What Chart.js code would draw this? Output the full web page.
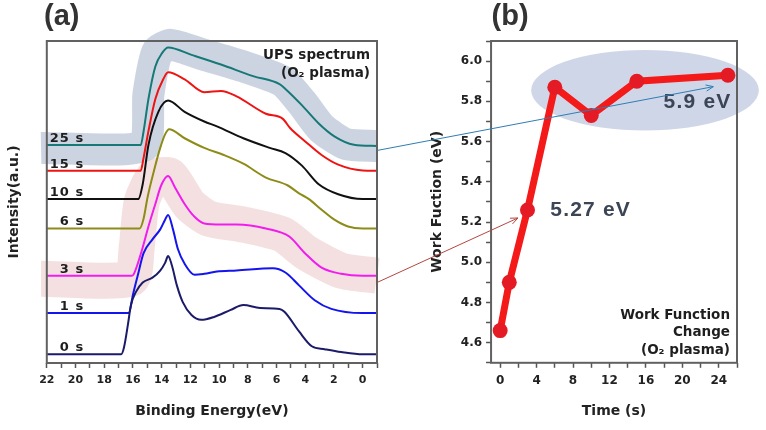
<!DOCTYPE html>
<html>
<head>
<meta charset="utf-8">
<script src="https://cdn.jsdelivr.net/npm/chart.js@4.4.0/dist/chart.umd.min.js"></script>
<style>
  body { margin: 0; background: #fff; }
  #wrap { position: relative; width: 766px; height: 430px; }
  #wrap canvas { position: absolute; left: 0; top: 0; }
</style>
</head>
<body>
<div id="wrap">
  <canvas id="ups" width="766" height="430"></canvas>
  <canvas id="wf" width="766" height="430"></canvas>
</div>
<script>
// (a) UPS spectra, binding energy (eV) vs stacked intensity (a.u.)
const energy0 = [22, 16.82, 16.62, 16.35, 16.14, 15.80, 15.32, 14.64, 14.10, 13.76, 13.55, 13.28, 12.94, 12.53, 11.92, 11.24, 10.35, 9.19, 8.31, 7.15, 5.79, 5.45, 4.43, 3.54, 2.65, 1.50, 0, -1];
const int0 = [2.7, 2.7, 4.9, 11.9, 18.0, 22.0, 25.0, 26.5, 28.7, 31.1, 33.2, 30.2, 24.1, 18.9, 14.9, 13.4, 14.3, 16.5, 18.0, 17.1, 16.8, 15.9, 9.8, 5.2, 4.3, 3.4, 2.7, 2.7];

const energy1 = [22, 16.28, 16.01, 15.67, 15.26, 14.64, 14.10, 13.76, 13.55, 13.21, 12.87, 12.40, 11.71, 11.03, 10.15, 8.78, 6.26, 5.38, 4.43, 3.34, 2.18, 0, -1];
const int1 = [15.5, 15.5, 21.0, 27.1, 34.1, 38.4, 41.5, 44.5, 46.0, 41.5, 35.4, 30.8, 27.4, 27.7, 28.4, 28.7, 29.4, 28.1, 24.1, 19.5, 16.8, 15.5, 15.5];

const energy3 = [22, 16.07, 15.94, 15.39, 14.92, 14.44, 14.03, 13.55, 13.08, 12.40, 11.71, 11.03, 9.87, 8.78, 6.74, 5.11, 4.02, 2.86, 1.50, 0, -1];
const int3 = [27.1, 27.1, 27.6, 34.8, 42.4, 49.4, 55.2, 58.1, 54.6, 49.4, 45.4, 43.3, 43.0, 43.0, 41.8, 39.3, 34.1, 29.6, 27.7, 27.1, 27.1];

const energy6 = [22, 15.53, 15.26, 14.98, 14.57, 14.10, 13.76, 13.48, 12.40, 11.03, 9.67, 8.31, 6.74, 5.24, 4.43, 3.74, 2.86, 1.97, 1.02, 0, -1];
const int6 = [41.8, 41.8, 44.8, 51.5, 59.1, 66.8, 71.0, 72.6, 69.8, 66.8, 64.6, 61.9, 57.6, 55.2, 52.7, 50.9, 47.6, 44.5, 42.4, 41.8, 41.8];

const energy10 = [22, 15.63, 15.32, 14.92, 14.23, 13.55, 12.40, 11.03, 10.15, 8.31, 6.47, 5.38, 4.23, 3.06, 1.70, 0, -1];
const int10 = [50.9, 50.9, 55.5, 67.7, 78.0, 81.5, 78.0, 75.0, 73.5, 69.8, 66.8, 65.2, 61.3, 55.5, 52.4, 50.9, 50.9];

const energy15 = [22, 15.46, 15.26, 14.92, 14.44, 13.89, 13.55, 12.40, 11.03, 9.87, 8.78, 6.74, 5.58, 5.04, 4.02, 2.86, 1.70, 0, -1];
const int15 = [59.7, 59.7, 63.7, 72.0, 82.0, 88.1, 90.3, 88.1, 84.1, 84.5, 82.8, 77.4, 75.9, 72.9, 68.9, 64.6, 61.6, 59.8, 59.7];

const energy25 = [22, 15.46, 15.26, 14.92, 14.44, 13.96, 13.55, 11.92, 9.87, 7.63, 5.79, 5.38, 4.22, 3.06, 1.97, 0.61, -1];
const int25 = [67.7, 67.7, 71.9, 82.0, 92.1, 96.3, 98.0, 95.7, 92.7, 89.1, 86.6, 85.1, 80.0, 74.4, 70.4, 67.8, 67.4];

// highlight strokes behind the 25 s and 3 s curves
const grayBandE = [22.4, 15.26, 14.92, 14.30, 13.35, 11.03, 8.31, 5.58, 4.22, 2.86, 1.16, -1.0];
const grayBandV = [66.8, 67.4, 83.5, 96.6, 98.8, 95.7, 92.1, 87.5, 80.8, 72.9, 68.0, 67.4];
const pinkBandE = [22.4, 16.14, 15.73, 15.39, 14.57, 13.42, 12.05, 10.69, 8.31, 5.58, 3.88, 1.50, -1.0];
const pinkBandV = [26.2, 26.2, 36.3, 50.0, 57.6, 58.2, 49.1, 44.8, 43.0, 39.9, 34.1, 28.7, 27.1];

// (b) work function vs plasma time
const times = [0, 1, 3, 6, 10, 15, 25];
const workFunction = [4.66, 4.90, 5.26, 5.87, 5.73, 5.90, 5.93];
const timeTicks = [0, 2, 4, 6, 8, 10, 12, 14, 16, 18, 20, 22, 24, 26];

const spectra = [
    { label: '0 s', e: energy0, v: int0, color: '#1b1b6a' },
    { label: '1 s', e: energy1, v: int1, color: '#1414ee' },
    { label: '3 s', e: energy3, v: int3, color: '#f21ded' },
    { label: '6 s', e: energy6, v: int6, color: '#8e8c18' },
    { label: '10 s', e: energy10, v: int10, color: '#111111' },
    { label: '15 s', e: energy15, v: int15, color: '#ee1414' },
    { label: '25 s', e: energy25, v: int25, color: '#177878' }
];

const pts = (xs, ys) => xs.map((x, i) => ({ x: x, y: ys[i] }));
const tickFont = size => ({ family: 'DejaVu Sans', weight: 'bold', size: size });
const titleFont = { family: 'DejaVu Sans', weight: 'bold', size: 14 };

function drawText(ctx, text, x, y, font, color, align, spacing) {
    ctx.save();
    ctx.font = font;
    ctx.fillStyle = color;
    ctx.textAlign = align;
    ctx.textBaseline = 'middle';
    if (spacing) ctx.letterSpacing = spacing + 'px';
    ctx.fillText(text, x, y);
    ctx.restore();
}

function drawFrame(chart) {
    const a = chart.chartArea;
    const ctx = chart.ctx;
    ctx.save();
    ctx.strokeStyle = '#616161';
    ctx.lineWidth = 2;
    ctx.strokeRect(a.left, a.top, a.right - a.left, a.bottom - a.top);
    ctx.restore();
}

function arrow(ctx, x1, y1, x2, y2, color) {
    const ang = Math.atan2(y2 - y1, x2 - x1);
    ctx.save();
    ctx.strokeStyle = color;
    ctx.lineWidth = 1;
    ctx.beginPath();
    ctx.moveTo(x1, y1);
    ctx.lineTo(x2, y2);
    ctx.moveTo(x2 - 8 * Math.cos(ang - 0.4), y2 - 8 * Math.sin(ang - 0.4));
    ctx.lineTo(x2, y2);
    ctx.lineTo(x2 - 8 * Math.cos(ang + 0.4), y2 - 8 * Math.sin(ang + 0.4));
    ctx.stroke();
    ctx.restore();
}

const upsDecor = {
    id: 'upsDecor',
    afterDatasetsDraw(chart) {
        const ctx = chart.ctx;
        const a = chart.chartArea;
        const xs = chart.scales.x, ys = chart.scales.y;
        drawFrame(chart);
        spectra.forEach(s => {
            ctx.save();
            ctx.font = 'bold 13px "DejaVu Sans"';
            ctx.fillStyle = '#1e1e1e';
            ctx.textAlign = 'right';
            ctx.textBaseline = 'alphabetic';
            ctx.letterSpacing = '1px';
            ctx.fillText(s.label, xs.getPixelForValue(19.4), ys.getPixelForValue(s.v[0]) - 3);
            ctx.restore();
        });
        drawText(ctx, 'UPS spectrum', a.right - 7, a.top + 14, 'bold 13.5px "DejaVu Sans"', '#1e1e1e', 'right');
        drawText(ctx, '(O\u2082 plasma)', a.right - 7, a.top + 32, 'bold 13.5px "DejaVu Sans"', '#1e1e1e', 'right');
        drawText(ctx, '(a)', a.left + 15, a.top - 24, 'bold 29px "Liberation Sans"', '#333333', 'center');
    }
};

const upsChart = new Chart(document.getElementById('ups').getContext('2d'), {
    type: 'line',
    data: {
        datasets: [
            ...spectra.map(s => ({
                label: s.label,
                data: pts(s.e, s.v),
                borderColor: s.color,
                borderWidth: 2,
                pointRadius: 0,
                cubicInterpolationMode: 'monotone',
                order: 1
            })),
            {
                label: 'band25',
                data: pts(grayBandE, grayBandV),
                borderColor: 'rgba(196,205,220,0.85)',
                borderWidth: 32,
                borderJoinStyle: 'round',
                pointRadius: 0,
                tension: 0.2,
                clip: false,
                order: 5
            },
            {
                label: 'band3',
                data: pts(pinkBandE, pinkBandV),
                borderColor: 'rgba(240,214,214,0.75)',
                borderWidth: 36,
                borderJoinStyle: 'round',
                pointRadius: 0,
                tension: 0.2,
                clip: false,
                order: 5
            }
        ]
    },
    options: {
        responsive: false,
        animation: false,
        layout: { padding: { left: 2, right: 389, top: 41, bottom: 6 } },
        plugins: { legend: { display: false }, tooltip: { enabled: false } },
        scales: {
            x: {
                type: 'linear',
                reverse: true,
                min: -1,
                max: 22,
                ticks: {
                    stepSize: 1,
                    autoSkip: false,
                    maxRotation: 0,
                    padding: 6,
                    color: '#222',
                    font: tickFont(11),
                    callback: v => (v >= 0 && v % 2 === 0) ? String(v) : ''
                },
                grid: { drawOnChartArea: false, tickLength: 5, tickColor: '#555', tickWidth: 1.5 },
                border: { display: false },
                title: { display: true, text: 'Binding Energy(eV)', color: '#222', font: titleFont, padding: { top: 10, bottom: 4 } }
            },
            y: {
                min: 0,
                max: 100,
                ticks: { display: false },
                grid: { display: false },
                border: { display: false },
                title: { display: true, text: 'Intensity(a.u.)', color: '#222', font: titleFont, padding: { top: 4, bottom: 16 } }
            }
        }
    },
    plugins: [upsDecor]
});

const wfDecor = {
    id: 'wfDecor',
    beforeDatasetsDraw(chart) {
        const ctx = chart.ctx;
        const xs = chart.scales.x, ys = chart.scales.y;
        const cx = xs.getPixelForValue(15.9), cy = ys.getPixelForValue(5.855);
        const rx = xs.getPixelForValue(28.4) - cx;
        const ry = ys.getPixelForValue(5.655) - cy;
        ctx.save();
        ctx.fillStyle = 'rgba(198,207,228,0.85)';
        ctx.beginPath();
        ctx.ellipse(cx, cy, rx, ry, 0, 0, Math.PI * 2);
        ctx.fill();
        ctx.restore();
    },
    afterDraw(chart) {
        const ctx = chart.ctx;
        const a = chart.chartArea;
        const xs = chart.scales.x, ys = chart.scales.y;
        const ax = upsChart.scales.x, ay = upsChart.scales.y;
        drawFrame(chart);
        drawText(ctx, '5.9 eV', xs.getPixelForValue(25.4), ys.getPixelForValue(5.795), 'bold 21px "Liberation Sans"', '#3b4556', 'right', 1.2);
        drawText(ctx, '5.27 eV', xs.getPixelForValue(5.5), ys.getPixelForValue(5.26), 'bold 21px "Liberation Sans"', '#3b4556', 'left', 1.2);
        const f = 'bold 13.5px "DejaVu Sans"';
        drawText(ctx, 'Work Function', a.right - 7, a.bottom - 47, f, '#1e1e1e', 'right');
        drawText(ctx, 'Change', a.right - 7, a.bottom - 30, f, '#1e1e1e', 'right');
        drawText(ctx, '(O\u2082 plasma)', a.right - 7, a.bottom - 12, f, '#1e1e1e', 'right');
        drawText(ctx, '(b)', a.left + 19, a.top - 24, 'bold 29px "Liberation Sans"', '#333333', 'center');
        // arrows from the highlighted spectra to the work function values
        arrow(ctx, ax.getPixelForValue(-1), ay.getPixelForValue(66.0), xs.getPixelForValue(23.4), ys.getPixelForValue(5.873), '#2e7db3');
        arrow(ctx, ax.getPixelForValue(-1), ay.getPixelForValue(25.0), xs.getPixelForValue(1.95), ys.getPixelForValue(5.22), '#b4463f');
    }
};

new Chart(document.getElementById('wf').getContext('2d'), {
    type: 'line',
    data: {
        datasets: [{
            label: 'Work function',
            data: pts(times, workFunction),
            borderColor: '#f41a1a',
            borderWidth: 7,
            pointRadius: 7.5,
            pointBackgroundColor: '#e41b24',
            pointBorderWidth: 0,
            tension: 0
        }]
    },
    options: {
        responsive: false,
        animation: false,
        layout: { padding: { left: 425, right: 29, top: 41, bottom: 6 } },
        plugins: { legend: { display: false }, tooltip: { enabled: false } },
        scales: {
            x: {
                type: 'linear',
                min: -1,
                max: 26,
                afterBuildTicks: axis => { axis.ticks = timeTicks.map(v => ({ value: v })); },
                ticks: {
                    autoSkip: false,
                    maxRotation: 0,
                    padding: 6,
                    color: '#222',
                    font: tickFont(12),
                    callback: v => (v % 4 === 0 && v <= 24) ? String(v) : ''
                },
                grid: { drawOnChartArea: false, tickLength: 5, tickColor: '#555', tickWidth: 1.5 },
                border: { display: false },
                title: { display: true, text: 'Time (s)', color: '#222', font: titleFont, padding: { top: 9, bottom: 4 } }
            },
            y: {
                min: 4.5,
                max: 6.1,
                ticks: {
                    stepSize: 0.1,
                    autoSkip: false,
                    padding: 4,
                    color: '#222',
                    font: tickFont(12),
                    callback: v => {
                        const t = Math.round(v * 10);
                        return (t % 2 === 0 && t >= 46 && t <= 60) ? (t / 10).toFixed(1) : '';
                    }
                },
                grid: { drawOnChartArea: false, tickLength: 5, tickColor: '#555', tickWidth: 1.5 },
                border: { display: false },
                title: { display: true, text: 'Work Fuction (eV)', color: '#222', font: titleFont, padding: { top: 4, bottom: 11 } }
            }
        }
    },
    plugins: [wfDecor]
});
</script>
</body>
</html>
